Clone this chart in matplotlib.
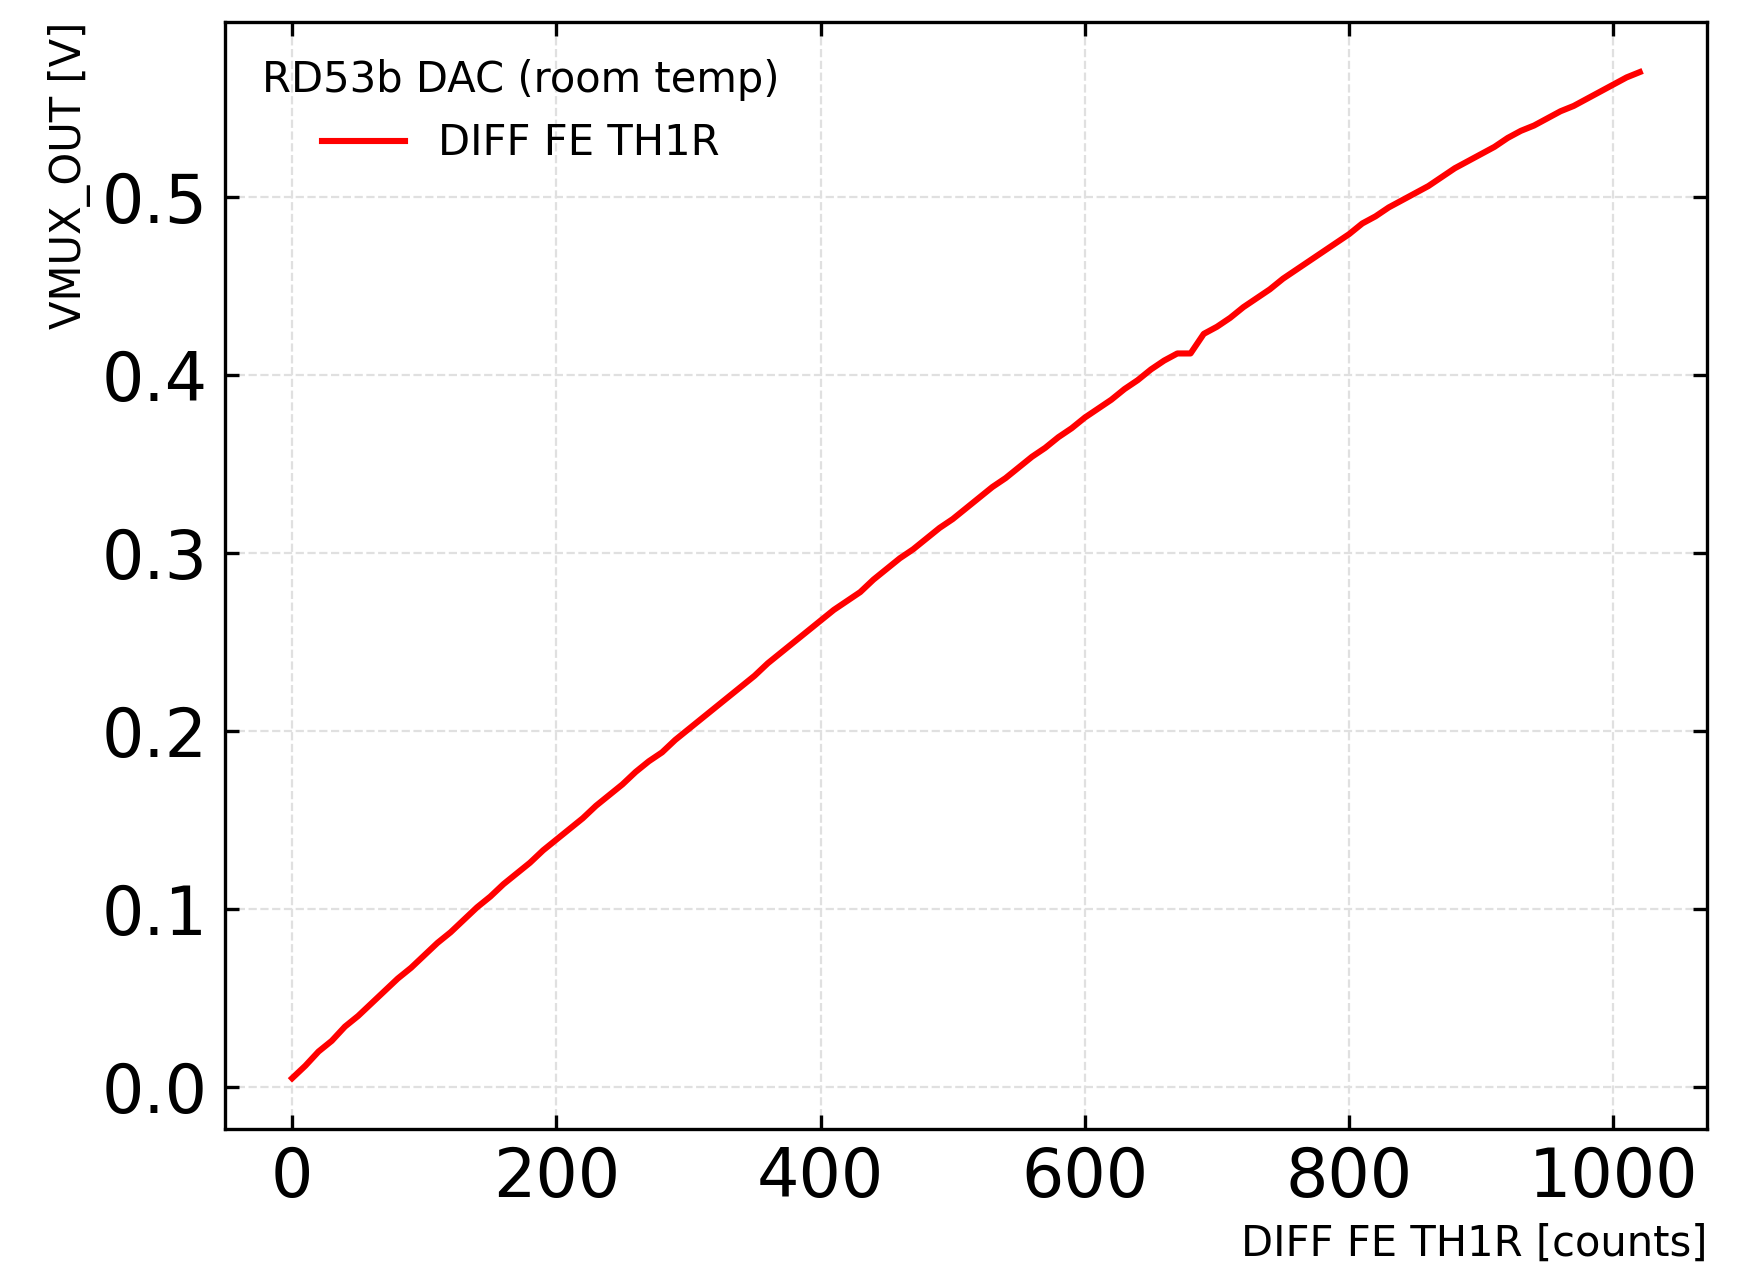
import matplotlib
matplotlib.use('Agg')
import matplotlib.pyplot as plt

counts = list(range(0, 1030, 10))
vmux = [0.005, 0.012, 0.020, 0.026, 0.034, 0.040, 0.047, 0.054, 0.061, 0.067,
        0.074, 0.081, 0.087, 0.094, 0.101, 0.107, 0.114, 0.120, 0.126, 0.133,
        0.139, 0.145, 0.151, 0.158, 0.164, 0.170, 0.177, 0.183, 0.188, 0.195,
        0.201, 0.207, 0.213, 0.219, 0.225, 0.231, 0.238, 0.244, 0.250, 0.256,
        0.262, 0.268, 0.273, 0.278, 0.285, 0.291, 0.297, 0.302, 0.308, 0.314,
        0.319, 0.325, 0.331, 0.337, 0.342, 0.348, 0.354, 0.359, 0.365, 0.370,
        0.376, 0.381, 0.386, 0.392, 0.397, 0.403, 0.408, 0.412, 0.412, 0.423,
        0.427, 0.432, 0.438, 0.443, 0.448, 0.454, 0.459, 0.464, 0.469, 0.474,
        0.479, 0.485, 0.489, 0.494, 0.498, 0.502, 0.506, 0.511, 0.516, 0.520,
        0.524, 0.528, 0.533, 0.537, 0.540, 0.544, 0.548, 0.551, 0.555, 0.559,
        0.563, 0.567, 0.570]

series_label = 'DIFF FE TH1R'
legend_title = 'RD53b DAC (room temp)'
x_label = 'DIFF FE TH1R [counts]'
y_label = 'VMUX_OUT [V]'

fig = plt.figure(figsize=(8.71, 6.405), dpi=200)
ax = fig.add_axes([0.129, 0.119, 0.851, 0.864])

ax.plot(counts, vmux, color='red', linewidth=2.2, label=series_label)

ax.grid(True, linestyle='--', color='#e0e0e0', linewidth=0.8)
ax.tick_params(direction='in', top=True, right=True, length=5, width=1.2,
               labelsize=24, pad=6)
for s in ax.spines.values():
    s.set_linewidth(1.2)

ax.set_xlabel(x_label, fontsize=15, loc='right')
ax.set_ylabel(y_label, fontsize=15, loc='top')

leg = ax.legend(title=legend_title, loc='upper left', frameon=False,
                fontsize=15, title_fontsize=15)

fig.savefig('out.png', dpi=200)
